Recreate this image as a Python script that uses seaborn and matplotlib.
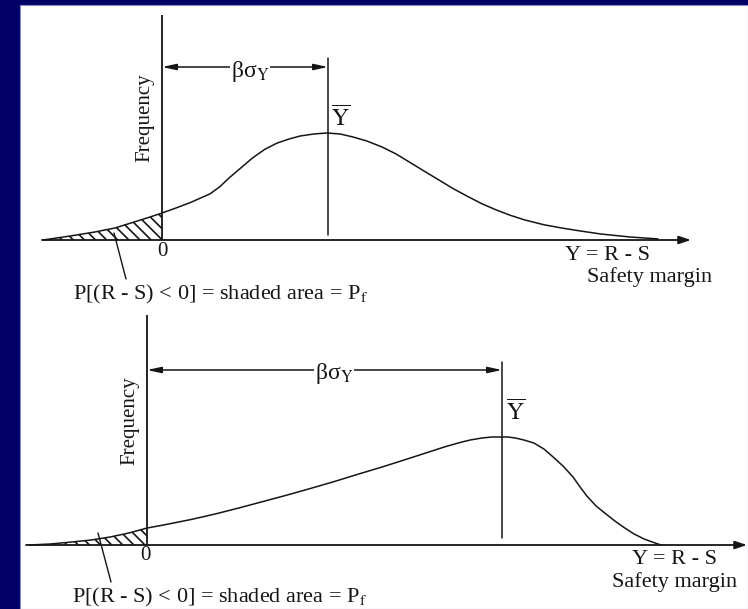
import numpy as np
import pandas as pd
import matplotlib
matplotlib.use("Agg")
import matplotlib.pyplot as plt
from matplotlib.patches import Rectangle
import seaborn as sns

# ---------------- data ----------------
# upper panel: roughly symmetric safety-margin distribution
top_margin = [-3.58, -2.77, -2.02, -1.42, -0.84, -0.36, 0.00, 0.42, 0.87, 1.45, 1.75,
              2.02, 2.38, 2.74, 3.10, 3.46, 3.83, 4.16, 4.58, 4.97, 5.36, 5.75, 6.17,
              6.63, 7.05, 7.47, 7.89, 8.34, 8.77, 9.22, 9.64, 10.06, 10.48, 10.93,
              11.51, 12.08, 12.65, 13.22, 14.10, 14.94]
top_freq = [0.000, 0.037, 0.075, 0.112, 0.168, 0.215, 0.252, 0.299, 0.352, 0.432, 0.500,
            0.580, 0.675, 0.770, 0.848, 0.905, 0.944, 0.972, 0.991, 1.000, 0.991, 0.963,
            0.925, 0.869, 0.804, 0.725, 0.645, 0.561, 0.480, 0.405, 0.338, 0.282, 0.232,
            0.187, 0.142, 0.110, 0.082, 0.056, 0.028, 0.010]
top_mean = 5.0

# lower panel: left-skewed safety-margin distribution
bottom_margin = [-3.32, -2.73, -2.11, -1.58, -1.04, -0.51, 0.00, 0.51, 1.24, 1.92, 2.59,
                 3.24, 3.92, 4.59, 5.27, 5.94, 6.62, 7.27, 7.94, 8.37, 8.76, 9.10, 9.44,
                 9.72, 9.97, 10.17, 10.37, 10.62, 10.90, 11.18, 11.44, 11.72, 12.00,
                 12.20, 12.39, 12.65, 12.93, 13.18, 13.46, 13.72, 14.00, 14.23, 14.48]
bottom_freq = [0.000, 0.009, 0.028, 0.046, 0.074, 0.111, 0.157, 0.188, 0.236, 0.287, 0.343,
               0.400, 0.460, 0.522, 0.587, 0.655, 0.722, 0.790, 0.861, 0.907, 0.944, 0.972,
               0.991, 1.000, 1.000, 1.000, 0.991, 0.972, 0.944, 0.889, 0.815, 0.731, 0.630,
               0.537, 0.454, 0.361, 0.287, 0.222, 0.157, 0.102, 0.056, 0.028, 0.000]
bottom_mean = 10.0

ylabel_text = "Frequency"
xlabel_text = "Y = R - S"
xlabel2_text = "Safety margin"
prob_text = r"P[(R - S) < 0] = shaded area = P$_\mathrm{f}$"
beta_text = r"βσ$_\mathrm{Y}$"
mean_text = r"$\overline{\mathrm{Y}}$"
zero_text = "0"

# ---------------- style ----------------
sns.set_style("white")
plt.rcParams["font.family"] = ["Liberation Serif", "DejaVu Serif"]
plt.rcParams["mathtext.fontset"] = "stix"
plt.rcParams["hatch.linewidth"] = 1.2

W, H = 748, 609
NAVY = "#000066"
INK = "#151515"

fig = plt.figure(figsize=(W / 100, H / 100), dpi=100)
fig.patch.set_facecolor(NAVY)
fig.add_artist(Rectangle((20 / W, 0), 1 - 20 / W, 1 - 5 / H, transform=fig.transFigure,
                         facecolor="white", edgecolor="#8a8ad0", lw=0.8, zorder=-1))


def panel_axes(top_px, bot_px, ox, oy, sx, sy):
    ax = fig.add_axes([0, 1 - bot_px / H, 1, (bot_px - top_px) / H])
    ax.set_xlim(-ox / sx, (W - ox) / sx)
    ax.set_ylim((oy - bot_px) / sy, (oy - top_px) / sy)
    ax.axis("off")
    ax.patch.set_alpha(0)
    return ax


def draw_panel(ax, xs, ys, mean, L):
    df = pd.DataFrame({"margin": xs, "freq": ys})
    sns.lineplot(data=df, x="margin", y="freq", ax=ax, color=INK, lw=1.1,
                 estimator=None, sort=False, legend=False)
    neg = df[df["margin"] <= 0]
    ax.fill_between(neg["margin"], neg["freq"], 0, facecolor="none",
                    edgecolor=INK, hatch="\\\\\\", linewidth=0)
    # x axis with arrow
    ax.annotate("", xy=(L["x_end"], 0), xytext=(L["x_start"], 0),
                arrowprops=dict(arrowstyle="-|>,head_length=0.6,head_width=0.2",
                                lw=1.3, color=INK, shrinkA=0, shrinkB=0,
                                mutation_scale=12))
    # y axis
    ax.plot([0, 0], [0, L["y_top"]], color=INK, lw=1.3, solid_capstyle="butt")
    # mean line
    ax.plot([mean, mean], [L["mean_lo"], L["mean_hi"]], color=INK, lw=1.1)
    # beta sigma dimension arrow
    ax.annotate("", xy=(mean, L["arrow_y"]), xytext=(0, L["arrow_y"]),
                arrowprops=dict(arrowstyle="<|-|>,head_length=0.6,head_width=0.13",
                                lw=1.1, color=INK, shrinkA=0, shrinkB=0,
                                mutation_scale=14))
    ax.text(L["beta_x"], L["beta_y"], beta_text, fontsize=17, ha="center", va="center",
            color=INK, bbox=dict(facecolor="white", edgecolor="none", pad=0.5))
    ax.text(L["ybar_x"], L["ybar_y"], mean_text, fontsize=17, ha="left", va="center",
            color=INK)
    ax.text(L["zero_x"], L["zero_y"], zero_text, fontsize=15, ha="center", va="center",
            color=INK)
    ax.text(L["freq_x"], L["freq_y"], ylabel_text, fontsize=15, rotation=90,
            ha="center", va="center", color=INK)
    ax.text(L["yrs_x"], L["yrs_y"], xlabel_text, fontsize=16, ha=L["lab_ha"],
            va="center", color=INK)
    ax.text(L["sm_x"], L["sm_y"], xlabel2_text, fontsize=16, ha=L["lab_ha"],
            va="center", color=INK)
    ax.text(L["p_x"], L["p_y"], prob_text, fontsize=16, ha="left", va="center",
            color=INK)
    ax.annotate("", xy=L["lead_a"], xytext=L["lead_b"],
                arrowprops=dict(arrowstyle="-", lw=1.0, color=INK,
                                shrinkA=0, shrinkB=0))


# ---------------- upper panel ----------------
ox, oy, sx, sy = 162, 240, 33.2, 107
ax1 = panel_axes(0, 305, ox, oy, sx, sy)
L1 = dict(
    x_start=(42 - ox) / sx, x_end=(691 - ox) / sx, y_top=(oy - 15) / sy,
    mean_lo=(oy - 235) / sy, mean_hi=(oy - 58) / sy, arrow_y=(oy - 67) / sy,
    beta_x=(250 - ox) / sx, beta_y=(oy - 71) / sy,
    ybar_x=(331 - ox) / sx, ybar_y=(oy - 119) / sy,
    zero_x=0, zero_y=(oy - 251) / sy,
    freq_x=(145 - ox) / sx, freq_y=(oy - 118) / sy,
    yrs_x=(565 - ox) / sx, yrs_y=(oy - 255) / sy,
    sm_x=(587 - ox) / sx, sm_y=(oy - 277) / sy, lab_ha="left",
    p_x=(73 - ox) / sx, p_y=(oy - 294) / sy,
    lead_a=((114 - ox) / sx, (oy - 233) / sy), lead_b=((126 - ox) / sx, (oy - 279) / sy),
)
draw_panel(ax1, top_margin, top_freq, top_mean, L1)

# ---------------- lower panel ----------------
ox, oy, sx, sy = 147, 545, 35.5, 108
ax2 = panel_axes(305, 609, ox, oy, sx, sy)
L2 = dict(
    x_start=(26 - ox) / sx, x_end=(747 - ox) / sx, y_top=(oy - 315) / sy,
    mean_lo=(oy - 538) / sy, mean_hi=(oy - 362) / sy, arrow_y=(oy - 370) / sy,
    beta_x=(334 - ox) / sx, beta_y=(oy - 373) / sy,
    ybar_x=(506 - ox) / sx, ybar_y=(oy - 413) / sy,
    zero_x=(145 - ox) / sx, zero_y=(oy - 556) / sy,
    freq_x=(130 - ox) / sx, freq_y=(oy - 421) / sy,
    yrs_x=(675 - ox) / sx, yrs_y=(oy - 559) / sy,
    sm_x=(675 - ox) / sx, sm_y=(oy - 582) / sy, lab_ha="center",
    p_x=(72 - ox) / sx, p_y=(oy - 597) / sy,
    lead_a=((98 - ox) / sx, (oy - 533) / sy), lead_b=((111 - ox) / sx, (oy - 582) / sy),
)
draw_panel(ax2, bottom_margin, bottom_freq, bottom_mean, L2)

fig.savefig("out.png", dpi=100, facecolor=fig.get_facecolor())
